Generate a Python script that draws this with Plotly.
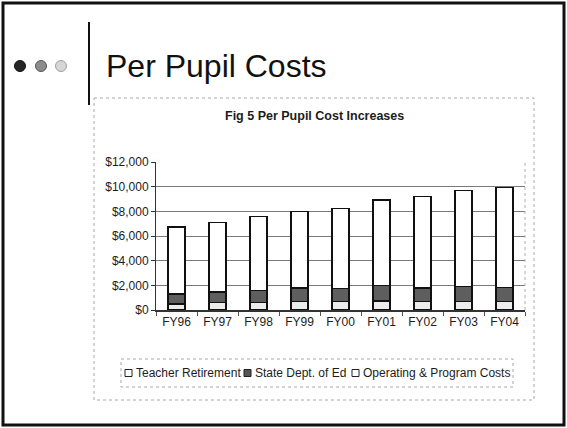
import plotly.graph_objects as go

# ---- data ----
categories = ["FY96", "FY97", "FY98", "FY99", "FY00", "FY01", "FY02", "FY03", "FY04"]
teacher_retirement = [470, 590, 610, 690, 670, 720, 670, 670, 670]
state_dept_ed = [840, 880, 960, 1100, 1060, 1280, 1120, 1250, 1140]
operating_program = [5420, 5610, 6000, 6210, 6500, 6920, 7420, 7770, 8140]
series_names = ["Teacher Retirement", "State Dept. of Ed", "Operating & Program Costs"]
y_tick_values = [0, 2000, 4000, 6000, 8000, 10000, 12000]
y_tick_labels = ["$0", "$2,000", "$4,000", "$6,000", "$8,000", "$10,000", "$12,000"]

# ---- geometry (pixels) ----
W, H = 567, 428
L, R, T, B = 156, 525, 162, 310
FONT = "Liberation Sans, Arial, sans-serif"
INK = "#1c1c1c"


def px(x):
    return (x - L) / (R - L)


def py(y):
    return (B - y) / (B - T)


fig = go.Figure()
fills = ["#ececec", "#5e5e5e", "#ffffff"]
for name, vals, col in zip(series_names, [teacher_retirement, state_dept_ed, operating_program], fills):
    fig.add_trace(go.Bar(
        x=categories, y=vals, name=name,
        marker=dict(color=col, line=dict(color="#111111", width=1.5)),
        showlegend=False,
    ))

fig.update_layout(
    width=W, height=H,
    margin=dict(l=L, r=W - R, t=T, b=H - B, autoexpand=False),
    barmode="stack", bargap=0.58,
    paper_bgcolor="white", plot_bgcolor="white",
    font=dict(family=FONT, size=12, color=INK),
)
fig.update_yaxes(
    range=[0, 12000], tickvals=y_tick_values, ticktext=y_tick_labels,
    showgrid=True, gridcolor="#7a7a7a", gridwidth=1,
    showline=True, linecolor="#333333", linewidth=1,
    ticks="outside", ticklen=4, tickcolor="#333333",
    tickfont=dict(size=12, color=INK), zeroline=False,
)
fig.update_xaxes(
    showline=True, linecolor="#333333", linewidth=1.5,
    ticks="outside", ticklen=4, tickcolor="#555555", tickson="boundaries",
    tickfont=dict(size=12, color=INK),
)

shapes = []
# slide border
shapes.append(dict(type="rect", xref="paper", yref="paper",
                   x0=px(3), x1=px(564), y0=py(3), y1=py(425),
                   line=dict(color="#111111", width=3)))
# bullet dots
for cx, fc, lc in [(20, "#262626", "#111111"), (41, "#8c8c8c", "#555555"), (61, "#d6d6d6", "#a0a0a0")]:
    r = 5.5
    shapes.append(dict(type="circle", xref="paper", yref="paper",
                       x0=px(cx - r), x1=px(cx + r), y0=py(66 + r), y1=py(66 - r),
                       fillcolor=fc, line=dict(color=lc, width=1)))
# title divider
shapes.append(dict(type="line", xref="paper", yref="paper",
                   x0=px(89), x1=px(89), y0=py(22), y1=py(105),
                   line=dict(color="#111111", width=2)))
# chart frame
shapes.append(dict(type="rect", xref="paper", yref="paper",
                   x0=px(94), x1=px(534), y0=py(98), y1=py(400),
                   line=dict(color="#a8a8a8", width=1, dash="dot")))
# plot-area right border
shapes.append(dict(type="line", xref="paper", yref="paper",
                   x0=1, x1=1, y0=0, y1=1, line=dict(color="#b0b0b0", width=1, dash="dot")))
# legend box
shapes.append(dict(type="rect", xref="paper", yref="paper",
                   x0=px(121), x1=px(513), y0=py(359), y1=py(387),
                   line=dict(color="#a8a8a8", width=1, dash="dot")))

annotations = [
    dict(text="Per Pupil Costs", x=px(104), y=py(66), xref="paper", yref="paper",
         xanchor="left", yanchor="middle", showarrow=False,
         font=dict(family=FONT, size=32, color="#111111")),
    dict(text="<b>Fig 5 Per Pupil Cost Increases</b>", x=px(314), y=py(116),
         xref="paper", yref="paper", xanchor="center", yanchor="middle", showarrow=False,
         font=dict(family=FONT, size=12.5, color=INK)),
]

# manual legend
leg_y = 373
leg_items = [(125, 0), (244, 1), (352, 2)]
for x0, i in leg_items:
    s = 7
    shapes.append(dict(type="rect", xref="paper", yref="paper",
                       x0=px(x0), x1=px(x0 + s), y0=py(leg_y + s / 2), y1=py(leg_y - s / 2),
                       fillcolor=["#ffffff", "#555555", "#ffffff"][i],
                       line=dict(color="#222222", width=1)))
    annotations.append(dict(text=series_names[i], x=px(x0 + s + 2), y=py(leg_y),
                            xref="paper", yref="paper", xanchor="left", yanchor="middle",
                            showarrow=False, font=dict(family=FONT, size=12, color=INK)))

fig.update_layout(shapes=shapes, annotations=annotations)
fig.write_html("out.html", config={"displayModeBar": False, "staticPlot": True},
               post_script="document.body.style.margin='0';document.body.style.overflow='hidden';")
